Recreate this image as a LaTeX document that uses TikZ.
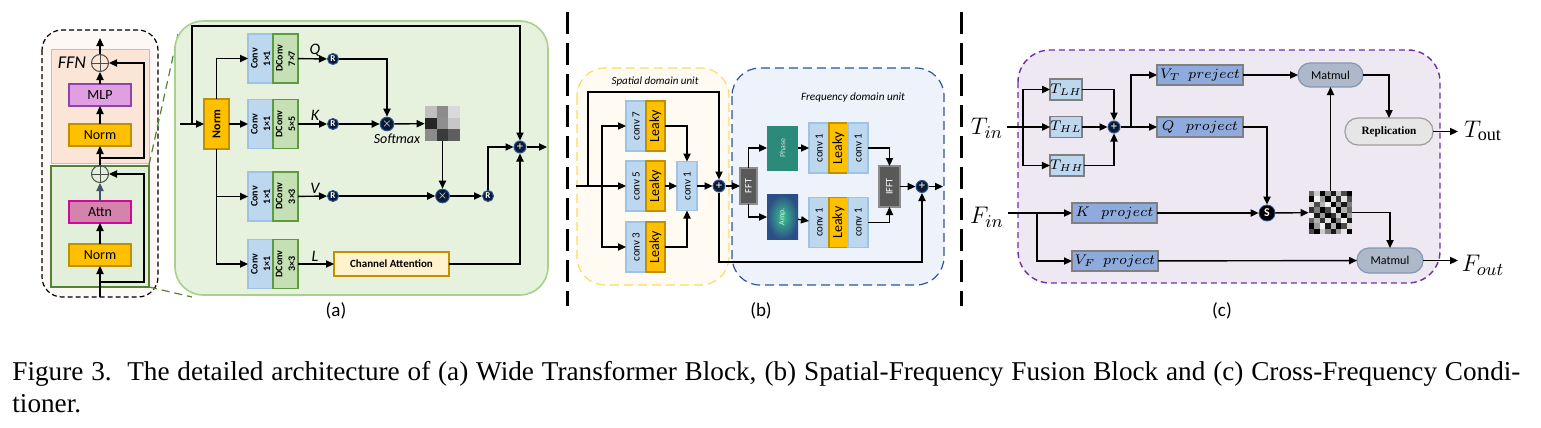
\documentclass[tikz,border=0pt]{standalone}
\usepackage{fontspec}
\setmainfont{Liberation Serif}
\newfontfamily\carl{Carlito}
\usetikzlibrary{arrows.meta,calc}
\newcommand{\fsz}[1]{\fontsize{#1}{#1}\selectfont}
\newcommand{\rt}[1]{\rotatebox{90}{#1}}
\definecolor{lpink}{HTML}{FDF8F6}
\definecolor{ffnfill}{HTML}{FBE5D6}
\definecolor{ffnb}{HTML}{F4B183}
\definecolor{attfill}{HTML}{E2EFDA}
\definecolor{attb}{HTML}{548235}
\definecolor{mlpfill}{HTML}{E09FE0}
\definecolor{mlpb}{HTML}{8E44AD}
\definecolor{normfill}{HTML}{FFC000}
\definecolor{normb}{HTML}{BF9000}
\definecolor{attnfill}{HTML}{D483AC}
\definecolor{attnb}{HTML}{D0079A}
\definecolor{slate}{HTML}{44546A}
\definecolor{apfill}{HTML}{E6F1DE}
\definecolor{apb}{HTML}{A9D18E}
\definecolor{cblue}{HTML}{BDD7EE}
\definecolor{cblueb}{HTML}{9DC3E6}
\definecolor{dgreen}{HTML}{C5E0B4}
\definecolor{dgreenb}{HTML}{5E9A3E}
\definecolor{cafill}{HTML}{FFF2CC}
\definecolor{cdark}{HTML}{0B1A33}
\definecolor{cdarkb}{HTML}{2F5597}
\definecolor{sdf}{HTML}{FFFBF2}
\definecolor{sdb}{HTML}{FFD966}
\definecolor{fdf}{HTML}{EEF2FA}
\definecolor{fdb}{HTML}{2F5597}
\definecolor{fftf}{HTML}{595959}
\definecolor{fftb}{HTML}{8C8C8C}
\definecolor{phasef}{HTML}{2B8A7A}
\definecolor{ampin}{HTML}{3CC28E}
\definecolor{ampout}{HTML}{2B4E86}
\definecolor{cf}{HTML}{EEE8F2}
\definecolor{cb}{HTML}{7030A0}
\definecolor{tbf}{HTML}{BDD7EE}
\definecolor{grb}{HTML}{808080}
\definecolor{prf}{HTML}{8FAADC}
\definecolor{mmf}{HTML}{ADB9CA}
\definecolor{mmb}{HTML}{8497B0}
\definecolor{repf}{HTML}{E7E6E6}
\definecolor{repb}{HTML}{9E9E9E}
\tikzset{
  arr/.style={-{Triangle[length=4pt,width=3.6pt]}, line width=0.7pt},
  box/.style={draw, line width=0.6pt, inner sep=0pt, outer sep=0pt, align=center},
  nbox/.style={box, minimum width=31pt, minimum height=11pt, font=\carl\fsz{7}},
  convA/.style={box, fill=cblue, draw=cblueb, minimum width=12.5pt, minimum height=24.5pt, font=\carl\bfseries\fsz{5}},
  dconvA/.style={box, fill=dgreen, draw=dgreenb, minimum width=12.5pt, minimum height=24.5pt, font=\carl\bfseries\fsz{5}},
  convB/.style={box, fill=cblue, draw=cblueb, minimum width=10pt, minimum height=25pt, font=\carl\fsz{5.5}},
  leaky/.style={box, fill=normfill, draw=normb, minimum width=9.5pt, minimum height=25pt, font=\carl\fsz{7}},
  dot/.style={circle, fill=cdark, draw=cdarkb, line width=0.5pt, minimum size=5.5pt, inner sep=0pt, text=white, font=\carl\bfseries\fsz{4.5}},
  oplus/.style={circle, draw=black!70, line width=0.5pt, minimum size=8.5pt, inner sep=0pt,
     path picture={\draw[black!70, line width=0.5pt] (path picture bounding box.north) -- (path picture bounding box.south) (path picture bounding box.west) -- (path picture bounding box.east);}},
  lbl/.style={font=\carl\itshape\fsz{8}, inner sep=0pt},
  tbox/.style={box, fill=tbf, draw=grb, minimum width=15pt, minimum height=10.5pt, font=\fsz{7}},
  pbox/.style={box, fill=prf, draw=grb, minimum width=43pt, minimum height=10pt, font=\fsz{7.5}},
  sep/.style={line width=1.5pt, dash pattern=on 11pt off 4.5pt},
  sub/.style={font=\carl\fsz{9.5}}
}
\begin{document}
\begin{tikzpicture}[x=0.5pt,y=-0.5pt]
\useasboundingbox (0,0) rectangle (1541,428);

% ================= (a) small block
\draw[line width=0.6pt, fill=lpink, rounded corners=10pt, dash pattern=on 2.5pt off 1.5pt] (42,30) rectangle (158,297);
\draw[fill=ffnfill, draw=ffnb, line width=0.5pt] (51,49) rectangle (149,163);
\draw[fill=attfill, draw=attb, line width=0.6pt] (51,166) rectangle (149,287);
\draw[attb, line width=0.6pt, dash pattern=on 4pt off 2.5pt] (149,165) -- (178,34);
\draw[attb, line width=0.6pt, dash pattern=on 4pt off 2.5pt] (149,287) -- (192,297);

\node[nbox, fill=mlpfill, draw=mlpb] (mlp) at (100,95) {MLP};
\node[nbox, fill=normfill, draw=normb] (n1) at (100,135) {Norm};
\node[nbox, fill=attnfill, draw=attnb] (attn) at (100,212) {Attn};
\node[nbox, fill=normfill, draw=normb] (n2) at (100,255) {Norm};
\node[oplus] (p1) at (100,63) {};
\node[oplus] (p2) at (100,174) {};
\node[font=\carl\itshape\fsz{9}] (ffn) at (72,63) {FFN};
\coordinate (a0) at (100,297);
\coordinate (a1) at (100,38);
\coordinate (r1) at (100,282);
\coordinate (r2) at (100,158);
\draw[arr] (a0) -- (n2);
\draw[arr] (n2) -- (attn);
\draw[arr, draw=slate] (attn) -- (p2);
\draw[arr] (p2) -- (n1);
\draw[arr] (n1) -- (mlp);
\draw[arr] (mlp) -- (p1);
\draw[arr] (p1) -- (a1);
\draw[arr] (r1) -- ++(44,0) |- (p2);
\draw[arr] (r2) -- ++(44,0) |- (p1);

% ================= (a) main panel
\draw[fill=apfill, draw=apb, line width=0.8pt, rounded corners=14pt] (175,21) rectangle (548,295);

\node[box, fill=normfill, draw=normb, minimum width=12.5pt, minimum height=25pt, font=\carl\bfseries\fsz{6}] (na) at (216.5,124) {\rt{Norm}};

\node[convA] (qc) at (260.5,58.5) {\rt{\shortstack{Conv\\1×1}}};
\node[dconvA] (qd) at (285.5,58.5) {\rt{\shortstack{DConv\\7×7}}};
\node[convA] (kc) at (260.5,124) {\rt{\shortstack{Conv\\1×1}}};
\node[dconvA] (kd) at (285.5,124) {\rt{\shortstack{DConv\\5×5}}};
\node[convA] (vc) at (260.5,196.5) {\rt{\shortstack{Conv\\1×1}}};
\node[dconvA] (vd) at (285.5,196.5) {\rt{\shortstack{DConv\\3×3}}};
\node[convA] (lc) at (260.5,264) {\rt{\shortstack{Conv\\1×1}}};
\node[dconvA] (ld) at (285.5,264) {\rt{\shortstack{DConv\\3×3}}};

\node[lbl] (lq) at (315,50) {Q};
\node[lbl] (lk) at (315,115) {K};
\node[lbl] (lv) at (315,188) {V};
\node[lbl] (ll) at (315,256) {L};

\node[dot] (rq) at (333,59) {R};
\node[dot] (rk) at (333,124) {R};
\node[dot] (rv) at (333,196) {R};
\node[dot] (m1) at (387,124) {$\times$};
\node[dot] (m2) at (442.5,196) {$\times$};
\node[dot] (r4) at (488,196) {R};
\node[dot, minimum size=6pt, font=\bfseries\fsz{6}] (pa) at (520,147) {+};

\foreach \v [count=\i from 0] in {25,45,15,85,44,22,45,77,63} {
  \pgfmathtruncatemacro\cx{mod(\i,3)}
  \pgfmathtruncatemacro\cy{int(\i/3)}
  \fill[black!\v] ({425+\cx*11.67},{106+\cy*11.67}) rectangle ++(11.67,11.67);
}
\node[minimum width=17.5pt, minimum height=17.5pt, inner sep=0pt] (sm) at (442.5,123.5) {};
\node[font=\carl\itshape\fsz{7}] (smx) at (397,139) {Softmax};

\node[box, fill=cafill, draw=normb, minimum width=57.5pt, minimum height=12pt, font=\carl\bfseries\fsz{5.5}] (ca) at (391.5,264) {Channel Attention};

\coordinate (ain) at (180,124);
\coordinate (asplit) at (192,124);
\draw[arr] (ain) -- (na);
\draw[arr] (asplit) -- ++(0,-98) -| (pa);
\draw[arr] (na.north) |- (qc);
\draw[arr] (na) -- (kc);
\draw[arr] (na.south) |- (lc);
\draw[arr] (na.south |- vc) -- (vc);
\draw[arr] (qd) -- (rq);
\draw[arr] (kd) -- (rk);
\draw[arr] (vd) -- (rv);
\draw[arr] (ld) -- (ca);
\draw[arr] (rq) -| (m1);
\draw[arr] (rk) -- (m1);
\draw[arr] (m1) -- (sm);
\draw[arr] (sm) -- (m2);
\draw[arr] (rv) -- (m2);
\draw[arr] (m2) -- (r4);
\draw[arr] (r4) |- (pa);
\draw[arr] (ca) -| (pa);
\draw[arr] (pa) -- ++(27,0);

\node[sub] (la) at (336,311) {(a)};

% ================= separators
\draw[sep] (567,12) -- (567,306);
\draw[sep] (961,12) -- (961,306);

% ================= (b)
\draw[draw=sdb, fill=sdf, line width=0.6pt, rounded corners=14pt, dash pattern=on 4.5pt off 2.5pt] (577,68) rectangle (729,285);
\draw[draw=fdb, fill=fdf, line width=0.6pt, rounded corners=14pt, dash pattern=on 4.5pt off 2.5pt] (732,68) rectangle (944,285);
\node[font=\carl\itshape\fsz{5.5}] (st) at (655,82) {Spatial domain unit};
\node[font=\carl\itshape\fsz{5.6}] (ft) at (853,98) {Frequency domain unit};

\node[convB] (c7) at (636,126) {\rt{conv 7}};
\node[leaky] (l7) at (655.5,126) {\rt{Leaky}};
\node[convB] (c5) at (636,186) {\rt{conv 5}};
\node[leaky] (l5) at (655.5,186) {\rt{Leaky}};
\node[convB] (c3) at (636,247) {\rt{conv 3}};
\node[leaky] (l3) at (655.5,247) {\rt{Leaky}};
\node[convB, minimum height=24.5pt] (cv1) at (687,186) {\rt{conv 1}};
\node[dot, minimum size=6pt, font=\bfseries\fsz{6}] (pb) at (719,186) {+};
\node[box, fill=fftf, draw=fftb, minimum width=8.5pt, minimum height=18pt, text=white, font=\carl\fsz{5}] (fft) at (748.5,186) {\rt{FFT}};
\node[box, fill=phasef, draw=none, minimum width=15.5pt, minimum height=22.5pt, text=white!75!phasef, font=\carl\fsz{4}] (phase) at (782.5,148) {\rt{Phase}};
\node[box, draw=none, inner color=ampin, outer color=ampout, minimum width=15.5pt, minimum height=22.5pt, text=white!75!ampin, font=\carl\fsz{4}] (amp) at (782.5,217) {\rt{Amp.}};
\node[convB] (tc1) at (819,148) {\rt{conv 1}};
\node[leaky] (tl) at (838.5,148) {\rt{Leaky}};
\node[convB] (tc2) at (858,148) {\rt{conv 1}};
\node[convB] (bc1) at (819,222.5) {\rt{conv 1}};
\node[leaky] (bl) at (838.5,222.5) {\rt{Leaky}};
\node[convB] (bc2) at (858,222.5) {\rt{conv 1}};
\node[box, fill=fftf, draw=fftb, minimum width=10.5pt, minimum height=20.5pt, text=white, font=\carl\fsz{5}] (ifft) at (889.5,186.5) {\rt{IFFT}};
\node[dot, minimum size=6pt, font=\bfseries\fsz{6}] (pb2) at (922,186.5) {+};

\coordinate (bin) at (576,186);
\coordinate (bs1) at (588,186);
\coordinate (bs2) at (602,186);
\draw[arr] (bin) -- (c5);
\draw[arr] (bs1) -- ++(0,-94) -| (pb);
\draw[arr] (bs2) |- (c7);
\draw[arr] (bs2) |- (c3);
\draw[arr] (l7) -| (cv1);
\draw[arr] (l5) -- (cv1);
\draw[arr] (l3) -| (cv1);
\draw[arr] (cv1) -- (pb);
\draw[arr] (pb) -- (fft);
\draw[arr] (pb) -- ++(0,76) -| (pb2);
\draw[arr] (fft.north) |- (phase);
\draw[arr] (fft.south) |- (amp);
\draw[arr] (phase) -- (tc1);
\draw[arr] (amp) -- (bc1);
\draw[arr] (tc2) -| (ifft);
\draw[arr] (bc2) -| (ifft);
\draw[arr] (ifft) -- (pb2);
\draw[arr] (pb2) -- ++(21,0);

\node[sub] (lb) at (761,311) {(b)};

% ================= (c)
\draw[draw=cb, fill=cf, line width=0.7pt, rounded corners=16pt, dash pattern=on 3pt off 2pt] (1018,50) rectangle (1440,283);

\node[font=\fsz{13}] (tin) at (987,128) {$T_{in}$};
\node[font=\fsz{13}] (fin) at (987,217) {$F_{in}$};

\node[tbox] (tlh) at (1066,89.5) {$T_{LH}$};
\node[tbox] (thl) at (1066,127) {$T_{HL}$};
\node[tbox, minimum width=16pt] (thh) at (1067,165.5) {$T_{HH}$};
\node[dot, minimum size=6pt, font=\bfseries\fsz{6}] (pc) at (1114,127) {+};

\node[pbox] (vt) at (1200,75) {$V_T\ \ preject$};
\node[pbox] (qp) at (1200,127) {$Q\ \ \ project$};
\node[pbox, minimum width=42.5pt] (kp) at (1114.5,213) {$K\ \ \ project$};
\node[pbox] (vf) at (1115,261) {$V_F\ \ project$};

\node[box, rounded corners=6pt, fill=mmf, draw=mmb, minimum width=32.5pt, minimum height=12pt, font=\carl\fsz{6}] (mt) at (1330.5,75) {Matmul};
\node[box, rounded corners=6.5pt, fill=repf, draw=repb, minimum width=44pt, minimum height=13.5pt, font=\bfseries\fsz{5.6}] (rep) at (1389,131.5) {Replication};
\node[box, rounded corners=6pt, fill=mmf, draw=mmb, minimum width=33pt, minimum height=12.5pt, font=\carl\fsz{6}] (mb) at (1390,260.5) {Matmul};
\node[circle, fill=black, draw=cdarkb, line width=0.4pt, minimum size=8pt, inner sep=0pt, text=white, font=\carl\bfseries\fsz{6}] (sc) at (1267,213) {S};

\foreach \v [count=\i from 0] in {
 60,20,100,45,90,25,70,100,
 100,5,40,100,15,80,10,70,
 15,70,30,5,100,40,90,50,
 80,50,100,70,10,100,30,60,
 5,90,40,100,80,20,100,40,
 60,30,80,15,100,50,5,90,
 100,40,5,90,30,100,70,15,
 70,100,20,50,90,40,10,100} {
  \pgfmathtruncatemacro\cx{mod(\i,8)}
  \pgfmathtruncatemacro\cy{int(\i/8)}
  \fill[black!\v!white] ({1309+\cx*5.375},{191+\cy*5.375}) rectangle ++(5.375,5.375);
}
\node[minimum width=21.5pt, minimum height=21.5pt, inner sep=0pt] (mat) at (1330.5,212.5) {};

\node[font=\fsz{13}] (tout) at (1483,131) {$T_{\mathrm{out}}$};
\node[font=\fsz{13}] (fout) at (1483,265) {$F_{out}$};

\coordinate (tinr) at (1007,127);
\coordinate (ts) at (1023,127);
\coordinate (tp) at (1131,127);
\coordinate (finr) at (1008,213);
\coordinate (fs) at (1037,213);
\coordinate (tend) at (1458,131.5);
\coordinate (fend) at (1458,260.5);

\draw[arr] (tinr) -- (thl);
\draw[arr] (ts) |- (tlh);
\draw[arr] (ts) |- (thh);
\draw[arr] (tlh) -| (pc);
\draw[arr] (thl) -- (pc);
\draw[arr] (thh) -| (pc);
\draw[arr] (pc) -- (qp);
\draw[arr] (tp) |- (vt);
\draw[arr] (finr) -- (kp);
\draw[arr] (fs) |- (vf);
\draw[arr] (vt) -- (mt);
\draw[arr] (mt) -| (rep);
\draw[arr] (rep) -- (tend);
\draw[arr] (qp) -| (sc);
\draw[arr] (kp) -- (sc);
\draw[arr] (sc) -- (mat);
\draw[arr] (mat) -- (mt);
\draw[arr] (mat) -| (mb);
\draw[arr] (vf) -- (mb);
\draw[arr] (mb) -- (fend);

\node[sub] (lc2) at (1222,311) {(c)};

% ================= caption
\node[anchor=base west, inner sep=0pt, font=\fsz{13.6}] (cap1) at (12,380) {\hbox to 754pt{Figure 3.\ \ The detailed architecture of (a) Wide Transformer Block, (b) Spatial-Frequency Fusion Block and (c) Cross-Frequency Condi-}};
\node[anchor=base west, inner sep=0pt, font=\fsz{13.6}] (cap2) at (12,412) {tioner.};
\end{tikzpicture}
\end{document}
